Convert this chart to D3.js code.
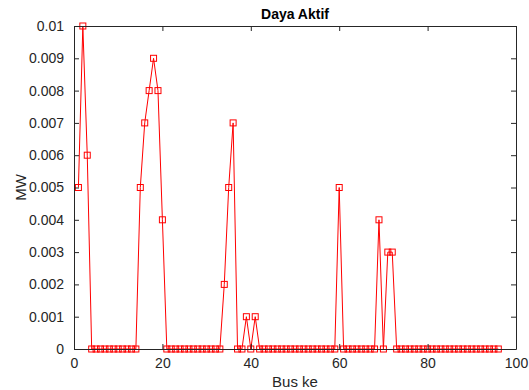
<!DOCTYPE html>
<html>
<head>
<meta charset="utf-8">
<script src="https://cdn.jsdelivr.net/npm/d3@7"></script>
<style>
  html, body { margin: 0; padding: 0; background: #fff; }
  svg { display: block; }
  text { font-family: "Liberation Sans", Arial, Helvetica, sans-serif; }
</style>
</head>
<body>
<div id="chart"></div>
<script>
const title = "Daya Aktif";
const xLabel = "Bus ke";
const yLabel = "MW";
const busNumbers = [
  1,2,3,4,5,6,7,8,9,10,11,12,13,14,15,16,17,18,19,20,
  21,22,23,24,25,26,27,28,29,30,31,32,33,34,35,36,37,38,39,40,
  41,42,43,44,45,46,47,48,49,50,51,52,53,54,55,56,57,58,59,60,
  61,62,63,64,65,66,67,68,69,70,71,72,73,74,75,76,77,78,79,80,
  81,82,83,84,85,86,87,88,89,90,91,92,93,94,95,96
];
const activePower = [
  0.005,0.01,0.006,0,0,0,0,0,0,0,0,0,0,0,0.005,0.007,0.008,0.009,0.008,0.004,
  0,0,0,0,0,0,0,0,0,0,0,0,0,0.002,0.005,0.007,0,0,0.001,0,
  0.001,0,0,0,0,0,0,0,0,0,0,0,0,0,0,0,0,0,0,0.005,
  0,0,0,0,0,0,0,0,0.004,0,0.003,0.003,0,0,0,0,0,0,0,0,
  0,0,0,0,0,0,0,0,0,0,0,0,0,0,0,0
];
const xTicks = [0, 20, 40, 60, 80, 100];
const yTicks = [0, 0.001, 0.002, 0.003, 0.004, 0.005, 0.006, 0.007, 0.008, 0.009, 0.01];
const yTickLabels = ["0","0.001","0.002","0.003","0.004","0.005","0.006","0.007","0.008","0.009","0.01"];

const W = 529, H = 390;
const m = {left: 74, right: 13, top: 26, bottom: 41};
const iw = W - m.left - m.right, ih = H - m.top - m.bottom;
const axisColor = "#262626";

const svg = d3.select("#chart").append("svg").attr("width", W).attr("height", H);
const g = svg.append("g").attr("transform", `translate(${m.left},${m.top})`);

const x = d3.scaleLinear().domain([0, 100]).range([0, iw]);
const y = d3.scaleLinear().domain([0, 0.01]).range([ih, 0]);

const data = busNumbers.map((b, i) => ({b, v: activePower[i]}));

// line
g.append("path")
  .datum(data)
  .attr("fill", "none")
  .attr("stroke", "#ff0000")
  .attr("stroke-width", 1)
  .attr("d", d3.line().x(d => x(d.b)).y(d => y(d.v)));

// markers
const ms = 6;
g.selectAll("rect.mk").data(data).enter().append("rect")
  .attr("class", "mk")
  .attr("x", d => x(d.b) - ms / 2)
  .attr("y", d => y(d.v) - ms / 2)
  .attr("width", ms).attr("height", ms)
  .attr("fill", "none")
  .attr("stroke", "#ff0000")
  .attr("stroke-width", 1);

// axes (MATLAB style, ticks inward, box)
const tl = 5;
const xb = d3.axisBottom(x).tickValues(xTicks).tickSize(-tl).tickPadding(9).tickSizeOuter(0);
const xt = d3.axisTop(x).tickValues(xTicks).tickSize(-tl).tickFormat("").tickSizeOuter(0);
const yl = d3.axisLeft(y).tickValues(yTicks).tickSize(-tl).tickPadding(10).tickSizeOuter(0)
  .tickFormat((d, i) => yTickLabels[i]);
const yr = d3.axisRight(y).tickValues(yTicks).tickSize(-tl).tickFormat("").tickSizeOuter(0);

function style(sel) {
  sel.selectAll("path").attr("stroke", axisColor).attr("stroke-width", 1);
  sel.selectAll("line").attr("stroke", axisColor).attr("stroke-width", 1);
  sel.selectAll("text").attr("fill", axisColor).attr("font-size", 14)
    .attr("font-family", "'Liberation Sans', Arial, sans-serif");
}
g.append("g").attr("transform", `translate(0,${ih})`).call(xb).call(style);
g.append("g").call(xt).call(style);
g.append("g").call(yl).call(style);
g.append("g").attr("transform", `translate(${iw},0)`).call(yr).call(style);

// title
svg.append("text")
  .attr("x", m.left + iw / 2).attr("y", 19)
  .attr("text-anchor", "middle")
  .attr("font-size", 14).attr("font-weight", "bold")
  .attr("fill", "#000")
  .text(title);

// x label
svg.append("text")
  .attr("x", m.left + iw / 2).attr("y", 387)
  .attr("text-anchor", "middle")
  .attr("font-size", 15)
  .attr("fill", axisColor)
  .text(xLabel);

// y label
svg.append("text")
  .attr("transform", `translate(26,${m.top + ih / 2}) rotate(-90)`)
  .attr("text-anchor", "middle")
  .attr("font-size", 15)
  .attr("fill", axisColor)
  .text(yLabel);
</script>
</body>
</html>
